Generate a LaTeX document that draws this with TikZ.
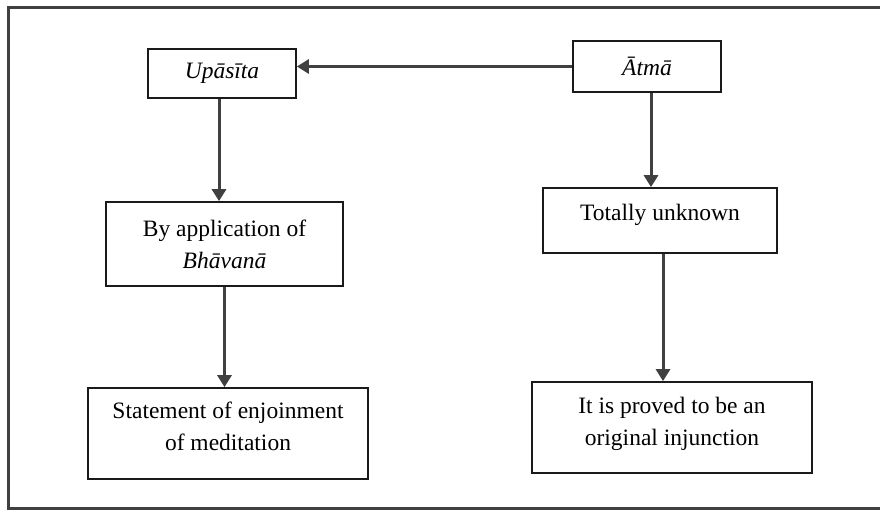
\documentclass[tikz,border=0pt]{standalone}
\usepackage{fontspec}
\setmainfont{Liberation Serif}
\usepackage{xcolor}
\usepackage{tikz}
\usetikzlibrary{arrows.meta}
\definecolor{linegray}{HTML}{404040}
\definecolor{boxline}{HTML}{1A1A1A}

\begin{document}
\begin{tikzpicture}[x=10pt,y=10pt]
\tikzstyle{every node}+=[inner sep=0pt, font=\fontsize{23.5}{32}\selectfont]
\tikzstyle{box}=[draw=boxline, line width=1.7pt, fill=white, align=center]
\tikzstyle{arr}=[draw=linegray, line width=3pt, -{Triangle[length=12pt,width=14pt]}]
\useasboundingbox (0,0) rectangle (88,-51);
\draw [linegray, line width=2.8pt] (88.5,-0.75) -- (0.85,-0.75) -- (0.85,-50.85) -- (88.5,-50.85);
\node [box, minimum width=148pt, minimum height=49pt] (upasita) at (22.2,-7.35) {\textit{Upāsīta}};
\node [box, minimum width=148pt, minimum height=51pt] (atma) at (64.7,-6.65) {\textit{Ātmā}};
\node [box, minimum width=237pt, minimum height=84pt] (bhavana) at (22.45,-24.4) {By application of\\\textit{Bhāvanā}};
\node [box, minimum width=280pt, minimum height=91pt, text depth=14pt] (statement) at (22.8,-43.35) {Statement of enjoinment\\of meditation};
\node [box, minimum width=234pt, minimum height=65pt, text depth=17pt] (unknown) at (66.0,-22.05) {Totally unknown};
\node [box, minimum width=280pt, minimum height=91pt, text depth=12pt] (injunction) at (67.2,-42.75) {It is proved to be an\\original injunction};
\draw [arr] (atma.west) -- (atma.west -| upasita.east);
\draw [arr] ([xshift=-3pt]upasita.south) -- ([xshift=-3pt]upasita.south |- bhavana.north);
\draw [arr] (bhavana.south) -- (bhavana.south |- statement.north);
\draw [arr] ([xshift=4pt]atma.south) -- ([xshift=4pt]atma.south |- unknown.north);
\draw [arr] ([xshift=3pt]unknown.south) -- ([xshift=3pt]unknown.south |- injunction.north);
\end{tikzpicture}
\end{document}
